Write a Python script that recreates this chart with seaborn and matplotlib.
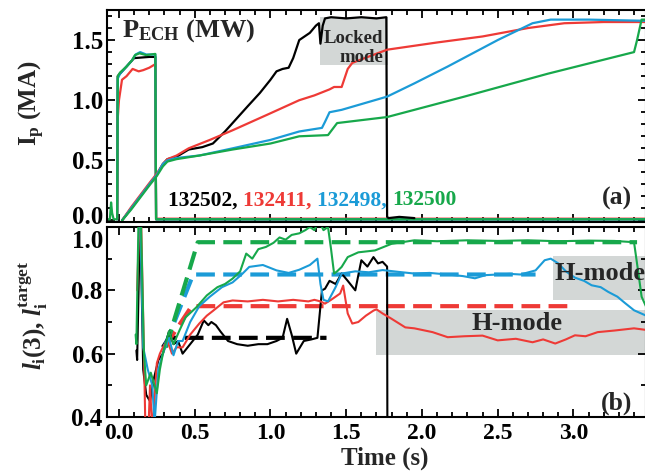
import matplotlib
matplotlib.use("Agg")
import numpy as np
import pandas as pd
import matplotlib.pyplot as plt
import seaborn as sns
from matplotlib.patches import Rectangle
from matplotlib.ticker import MultipleLocator, FormatStrFormatter
from matplotlib.offsetbox import TextArea, HPacker, AnchoredOffsetbox
from matplotlib.transforms import ScaledTranslation

# ---------------- data ----------------
shots = ["132502", "132411", "132498", "132500"]
shot_colors = ["#000000", "#ee3a36", "#1b9bd7", "#17a84b"]

# Plasma current Ip (MA)
ip_t_132502 = [0.02, 0.08, 0.14, 0.20, 0.25, 0.29, 0.32, 0.38, 0.46, 0.55, 0.62, 0.70, 0.75, 0.85,
               0.93, 1.00, 1.04, 1.08, 1.12, 1.15, 1.19, 1.26, 1.30, 1.32, 1.33, 1.345, 1.36, 1.40,
               1.50, 1.60, 1.70, 1.765, 1.77, 1.78, 1.85, 1.95]
ip_132502 = [0.0, 0.10, 0.20, 0.30, 0.38, 0.47, 0.51, 0.53, 0.59, 0.61, 0.64, 0.74, 0.81, 0.95,
             1.06, 1.17, 1.24, 1.26, 1.27, 1.35, 1.50, 1.56, 1.62, 1.64, 1.47, 1.62, 1.68, 1.69,
             1.68, 1.69, 1.68, 1.69, 0.03, 0.02, 0.03, 0.02]

ip_t_132411 = [0.02, 0.08, 0.14, 0.20, 0.25, 0.29, 0.32, 0.38, 0.46, 0.60, 0.75, 0.98, 1.19, 1.29,
               1.39, 1.42, 1.47, 1.51, 1.54, 1.58, 1.77, 2.10, 2.40, 2.70, 2.94, 3.20, 3.48]
ip_132411 = [0.0, 0.11, 0.21, 0.31, 0.39, 0.47, 0.51, 0.54, 0.60, 0.67, 0.75, 0.88, 1.00, 1.04,
             1.09, 1.11, 1.11, 1.26, 1.31, 1.33, 1.42, 1.48, 1.53, 1.60, 1.64, 1.65, 1.65]

ip_t_132498 = [0.02, 0.08, 0.14, 0.20, 0.25, 0.29, 0.32, 0.38, 0.53, 0.75, 1.00, 1.19, 1.34, 1.36,
               1.39, 1.47, 1.77, 1.95, 2.17, 2.50, 2.73, 2.85, 3.10, 3.48]
ip_132498 = [0.0, 0.10, 0.20, 0.30, 0.38, 0.47, 0.50, 0.52, 0.54, 0.60, 0.67, 0.74, 0.77, 0.82,
             0.90, 0.92, 1.03, 1.14, 1.28, 1.50, 1.64, 1.67, 1.67, 1.66]

ip_t_132500 = [0.02, 0.08, 0.14, 0.20, 0.25, 0.29, 0.32, 0.38, 0.53, 0.75, 1.00, 1.19, 1.38, 1.41,
               1.44, 1.77, 2.28, 2.83, 3.40, 3.42, 3.45, 3.48]
ip_132500 = [0.0, 0.09, 0.19, 0.29, 0.37, 0.45, 0.49, 0.51, 0.54, 0.59, 0.64, 0.70, 0.71, 0.76,
             0.81, 0.86, 1.03, 1.22, 1.40, 1.50, 1.67, 1.67]

# ECH power P_ECH (MW)
pech_t_132502 = [-0.012, -0.008, 0.05, 0.10, 0.20, 0.24, 0.245, 3.48]
pech_132502 = [0.01, 1.20, 1.28, 1.35, 1.36, 1.36, 0.01, 0.01]

pech_t_132411 = [-0.012, -0.008, 0.0, 0.02, 0.05, 0.09, 0.13, 0.16, 0.20, 0.24, 0.245, 3.48]
pech_132411 = [0.015, 0.85, 1.00, 1.17, 1.20, 1.26, 1.24, 1.25, 1.27, 1.30, 0.015, 0.015]

pech_t_132498 = [-0.012, -0.008, 0.007, 0.05, 0.085, 0.11, 0.14, 0.18, 0.24, 0.245, 3.48]
pech_132498 = [0.01, 1.18, 1.22, 1.28, 1.33, 1.38, 1.40, 1.38, 1.38, 0.01, 0.01]

pech_t_132500 = [-0.08, -0.06, -0.052, -0.045, -0.035, -0.012, -0.008, 0.007, 0.05, 0.085, 0.106,
                 0.135, 0.18, 0.24, 0.245, 0.25, 3.48]
pech_132500 = [0.01, 0.01, 0.15, 0.06, 0.01, 0.01, 1.20, 1.23, 1.28, 1.33, 1.375, 1.39, 1.375,
               1.385, 0.01, 0.01, 0.01]

# Internal inductance li(3)
li_t_132502 = [0.115, 0.12, 0.14, 0.16, 0.18, 0.205, 0.23, 0.26, 0.29, 0.33, 0.36, 0.39, 0.42,
               0.47, 0.52, 0.56, 0.59, 0.61, 0.64, 0.67, 0.72, 0.78, 0.85, 0.92, 0.98, 1.04, 1.08,
               1.11, 1.14, 1.17, 1.22, 1.27, 1.31, 1.34, 1.36, 1.39, 1.43, 1.47, 1.51, 1.56, 1.60,
               1.64, 1.68, 1.71, 1.74, 1.77, 1.772]
li_132502 = [0.61, 0.58, 1.05, 0.55, 0.47, 0.45, 0.52, 0.58, 0.60, 0.67, 0.63, 0.64, 0.60,
             0.63, 0.66, 0.705, 0.69, 0.70, 0.69, 0.67, 0.64, 0.63, 0.625, 0.63, 0.63, 0.64, 0.65,
             0.71, 0.66, 0.60, 0.64, 0.645, 0.65, 0.80, 0.805, 0.83, 0.82, 0.853, 0.83, 0.80, 0.895,
             0.875, 0.905, 0.885, 0.89, 0.875, 0.30]

li_t_132411 = [0.12, 0.13, 0.145, 0.165, 0.175, 0.19, 0.205, 0.22, 0.25, 0.27, 0.29, 0.32, 0.35,
               0.38, 0.42, 0.47, 0.53, 0.58, 0.62, 0.69, 0.75, 0.85, 0.95, 1.05, 1.15, 1.25, 1.29,
               1.33, 1.36, 1.40, 1.46, 1.48, 1.51, 1.54, 1.58, 1.63, 1.68, 1.70, 1.74, 1.80, 1.89,
               1.95, 2.07, 2.17, 2.28, 2.40, 2.50, 2.62, 2.73, 2.80, 2.88, 2.95, 3.01, 3.08, 3.16,
               3.27, 3.40, 3.48]
li_132411 = [0.80, 0.95, 1.05, 0.60, 0.35, 0.30, 0.50, 0.35, 0.57, 0.60, 0.62, 0.64, 0.60,
             0.62, 0.62, 0.66, 0.695, 0.72, 0.735, 0.762, 0.768, 0.765, 0.77, 0.765, 0.77, 0.765, 0.77,
             0.765, 0.758, 0.77, 0.79, 0.815, 0.727, 0.695, 0.70, 0.72, 0.736, 0.74, 0.727, 0.71, 0.683,
             0.68, 0.668, 0.652, 0.655, 0.657, 0.642, 0.647, 0.636, 0.645, 0.632, 0.645, 0.658, 0.655,
             0.668, 0.673, 0.68, 0.675]

li_t_132498 = [0.13, 0.14, 0.16, 0.19, 0.22, 0.235, 0.26, 0.29, 0.33, 0.36, 0.39, 0.42, 0.47,
               0.53, 0.60, 0.68, 0.75, 0.81, 0.86, 0.95, 1.04, 1.12, 1.19, 1.26, 1.31, 1.33, 1.35,
               1.38, 1.43, 1.47, 1.56, 1.65, 1.74, 1.85, 1.95, 2.05, 2.17, 2.27, 2.35, 2.42, 2.50,
               2.58, 2.65, 2.75, 2.81, 2.85, 2.90, 2.95, 3.01, 3.07, 3.12, 3.18, 3.23, 3.29, 3.34,
               3.40, 3.48]
li_132498 = [1.05, 1.02, 0.62, 0.55, 0.50, 0.38, 0.55, 0.60, 0.65, 0.595, 0.64, 0.64, 0.70,
             0.75, 0.78, 0.81, 0.825, 0.85, 0.874, 0.88, 0.863, 0.855, 0.865, 0.88, 0.90, 0.82, 0.77,
             0.765, 0.81, 0.853, 0.86, 0.857, 0.864, 0.858, 0.853, 0.855, 0.85, 0.845, 0.838, 0.848,
             0.85, 0.852, 0.85, 0.863, 0.895, 0.90, 0.885, 0.86, 0.84, 0.83, 0.816, 0.81, 0.795, 0.78,
             0.76, 0.737, 0.72]

li_t_132500 = [0.11, 0.115, 0.13, 0.145, 0.165, 0.18, 0.21, 0.25, 0.27, 0.29, 0.33, 0.36, 0.40,
               0.44, 0.51, 0.58, 0.65, 0.70, 0.75, 0.80, 0.84, 0.88, 0.92, 0.97, 1.02, 1.06, 1.10,
               1.14, 1.19, 1.23, 1.26, 1.29, 1.32, 1.35, 1.38, 1.40, 1.42, 1.44, 1.47, 1.51, 1.58,
               1.69, 1.80, 1.95, 2.10, 2.30, 2.50, 2.70, 2.90, 3.10, 3.27, 3.40, 3.43, 3.45, 3.48]
li_132500 = [0.66, 0.63, 1.05, 1.02, 0.60, 0.50, 0.54, 0.475, 0.55, 0.60, 0.67, 0.63, 0.674,
             0.715, 0.746, 0.784, 0.81, 0.82, 0.837, 0.86, 0.916, 0.90, 0.93, 0.937, 0.95, 0.967,
             0.96, 0.975, 0.98, 0.99, 1.0, 0.99, 1.02, 0.99, 1.0, 0.93, 0.853, 0.86, 0.874, 0.905,
             0.92, 0.926, 0.947, 0.958, 0.955, 0.958, 0.956, 0.958, 0.955, 0.957, 0.956, 0.952,
             0.85, 0.78, 0.748]

# li target waveforms
tgt_t_132502 = [0.29, 0.33, 1.37]
tgt_132502 = [0.62, 0.65, 0.65]
tgt_t_132411 = [0.30, 0.48, 3.01]
tgt_132411 = [0.62, 0.75, 0.75]
tgt_t_132498 = [0.30, 0.49, 2.75]
tgt_132498 = [0.62, 0.85, 0.85]
tgt_t_132500 = [0.31, 0.52, 3.42]
tgt_132500 = [0.62, 0.952, 0.952]

ip_series = [(ip_t_132502, ip_132502), (ip_t_132411, ip_132411),
             (ip_t_132498, ip_132498), (ip_t_132500, ip_132500)]
pech_series = [(pech_t_132502, pech_132502), (pech_t_132411, pech_132411),
               (pech_t_132498, pech_132498), (pech_t_132500, pech_132500)]
li_series = [(li_t_132502, li_132502), (li_t_132411, li_132411),
             (li_t_132498, li_132498), (li_t_132500, li_132500)]
tgt_series = [(tgt_t_132502, tgt_132502), (tgt_t_132411, tgt_132411),
              (tgt_t_132498, tgt_132498), (tgt_t_132500, tgt_132500)]

# ---------------- style ----------------
sns.set_theme(style="ticks")
plt.rcParams["font.family"] = ["Liberation Serif", "DejaVu Serif"]
plt.rcParams["font.weight"] = "bold"
plt.rcParams["mathtext.fontset"] = "custom"
plt.rcParams["mathtext.rm"] = "Liberation Serif:bold"
plt.rcParams["mathtext.it"] = "Liberation Serif:italic:bold"
plt.rcParams["mathtext.bf"] = "Liberation Serif:bold"
plt.rcParams["axes.linewidth"] = 1.5

W, H = 645, 475
fig = plt.figure(figsize=(W / 100, H / 100), dpi=100)
fig.patch.set_facecolor("white")


def frac_box(x0, y_top, x1, y_bot):
    return [x0 / W, 1 - y_bot / H, (x1 - x0) / W, (y_bot - y_top) / H]


ax1 = fig.add_axes(frac_box(107, 10, 646, 222.3))
ax2 = fig.add_axes(frac_box(107, 227, 646, 417))

XMIN, XMAX = -0.079, 3.479
GRAY = "#d3d7d6"


def draw(ax, t, v, color, lw, ls="-", z=2):
    df = pd.DataFrame({"time": t, "value": v})
    sns.lineplot(data=df, x="time", y="value", color=color, lw=lw, linestyle=ls,
                 sort=False, estimator=None, ax=ax, zorder=z)


# ---------------- panel (a) ----------------
ax1.add_patch(Rectangle((1.33, 1.29), 1.775 - 1.33, 1.69 - 1.29, facecolor=GRAY,
                        edgecolor="none", zorder=0.5))
for (t, v), c in zip(pech_series, shot_colors):
    draw(ax1, t, v, c, 1.6)
for (t, v), c in zip(ip_series, shot_colors):
    draw(ax1, t, v, c, 1.6)

ax1.set_xlim(XMIN, XMAX)
ax1.set_ylim(-0.015, 1.75)
ax1.set_xlabel("")
ax1.set_ylabel(r"$\mathrm{I_p}$ (MA)", fontsize=18, fontweight="bold")
ax1.yaxis.set_label_coords(-0.112, 0.562)

ax1.text(0.018, 1.525, r"$\mathrm{P_{ECH}}$ (MW)", fontsize=19, fontweight="bold",
         ha="left", va="baseline")
ax1.text(1.745, 1.475, "Locked", fontsize=13.5, fontweight="bold", ha="right", va="baseline")
ax1.text(1.745, 1.32, "mode", fontsize=13.5, fontweight="bold", ha="right", va="baseline")
ax1.text(3.386, 0.13, "(a)", fontsize=18.5, fontweight="bold", ha="right", va="baseline")

pieces = [TextArea(s + (", " if i < 3 else ""),
                   textprops=dict(color=c, fontsize=15.5, fontweight="bold"))
          for i, (s, c) in enumerate(zip(shots, shot_colors))]
pack = HPacker(children=pieces, align="baseline", pad=0, sep=0)
ax1.add_artist(AnchoredOffsetbox(loc="lower left", child=pack, pad=0, borderpad=0,
                                 frameon=False, bbox_to_anchor=(0.325, 0.085),
                                 bbox_transform=ax1.transData))

# ---------------- panel (b) ----------------
ax2.add_patch(Rectangle((2.865, 0.768), 0.7, 0.91 - 0.768, facecolor=GRAY,
                        edgecolor="none", zorder=0.5))
ax2.add_patch(Rectangle((1.70, 0.595), 1.9, 0.737 - 0.595, facecolor=GRAY,
                        edgecolor="none", zorder=0.5))
for (t, v), c in zip(tgt_series, shot_colors):
    draw(ax2, t, v, c, 3.0, ls=(0, (4.5, 2.0)), z=2.5)
for (t, v), c in zip(li_series, shot_colors):
    draw(ax2, t, v, c, 1.5, z=3)

ax2.set_xlim(XMIN, XMAX)
ax2.set_ylim(0.4, 1.0)
ax2.set_xlabel("Time (s)", fontsize=18, fontweight="bold")
ax2.xaxis.set_label_coords(0.516, -0.155)
ax2.set_ylabel(r"$l_\mathrm{i}(3)$, $l_\mathrm{i}^\mathrm{target}$", fontsize=18,
               fontweight="bold")
ax2.yaxis.set_label_coords(-0.106, 0.537)

ax2.text(2.878, 0.832, "H-mode", fontsize=19, fontweight="bold", ha="left", va="baseline",
         zorder=4)
ax2.text(2.33, 0.675, "H-mode", fontsize=19, fontweight="bold", ha="left", va="baseline",
         zorder=4)
ax2.text(3.386, 0.422, "(b)", fontsize=18.5, fontweight="bold", ha="right", va="baseline")

# ---------------- axes cosmetics ----------------
for ax in (ax1, ax2):
    ax.xaxis.set_major_locator(MultipleLocator(0.5))
    ax.xaxis.set_minor_locator(MultipleLocator(0.1))
    ax.tick_params(which="both", direction="in", top=True, right=True, width=1.3,
                   colors="black")
    ax.tick_params(which="major", length=6)
    ax.tick_params(which="minor", length=3.5)
    ax.xaxis.set_major_formatter(FormatStrFormatter("%.1f"))
    ax.yaxis.set_major_formatter(FormatStrFormatter("%.1f"))
    for s in ax.spines.values():
        s.set_linewidth(1.5)
        s.set_color("black")
    ax.set_facecolor("white")
    ax.tick_params(axis="y", labelsize=18, pad=3)

ax1.yaxis.set_major_locator(MultipleLocator(0.5))
ax1.yaxis.set_minor_locator(MultipleLocator(0.1))
ax1.tick_params(axis="x", labelbottom=False)
ax2.yaxis.set_major_locator(MultipleLocator(0.2))
ax2.yaxis.set_minor_locator(MultipleLocator(0.1))
ax2.tick_params(axis="x", labelsize=17, pad=4)

# keep the labels at the shared edge of the two panels apart
fig.canvas.draw()
for lab in ax1.get_yticklabels():
    if lab.get_text() == "0.0":
        lab.set_verticalalignment("baseline")
        lab.set_transform(lab.get_transform()
                          + ScaledTranslation(0, -0.04, fig.dpi_scale_trans))
for lab in ax2.get_yticklabels():
    if lab.get_text() == "1.0":
        lab.set_verticalalignment("top")
        lab.set_transform(lab.get_transform()
                          + ScaledTranslation(0, -0.03, fig.dpi_scale_trans))

fig.savefig("out.png", dpi=100)
